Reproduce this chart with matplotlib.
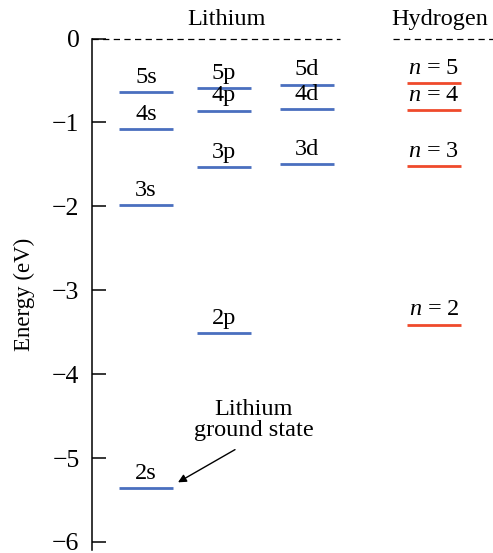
import matplotlib
matplotlib.use("Agg")
import matplotlib.pyplot as plt

plt.rcParams['font.family'] = ['Liberation Serif', 'DejaVu Serif']
plt.rcParams['mathtext.fontset'] = 'custom'
plt.rcParams['mathtext.rm'] = 'Liberation Serif'
plt.rcParams['mathtext.it'] = 'Liberation Serif:italic'

# Energy levels (eV)
li_s_labels = ["2s", "3s", "4s", "5s"]
li_s_energy = [-5.36, -1.99, -1.08, -0.64]
li_p_labels = ["2p", "3p", "4p", "5p"]
li_p_energy = [-3.51, -1.53, -0.86, -0.59]
li_d_labels = ["3d", "4d", "5d"]
li_d_energy = [-1.50, -0.84, -0.55]
h_labels = [r"$n$ = 2", r"$n$ = 3", r"$n$ = 4", r"$n$ = 5"]
h_energy = [-3.41, -1.52, -0.85, -0.53]

yticks = [0, -1, -2, -3, -4, -5, -6]

BLUE = "#4a6fbf"
RED = "#ef4a2b"
FS = 17.5

# column layout (x in axes data units, pixels from spine)
col_x = {"s": 54, "p": 132, "d": 215, "H": 342}
half_w = 27

fig = plt.figure(figsize=(4.93, 5.53), dpi=100)
ax = fig.add_axes([92 / 493, 2.7 / 553, 401 / 493, 511.8 / 553])
ax.set_xlim(0, 401)
ax.set_ylim(-6.1, 0)


def draw_levels(xc, labels, energies, color):
    for lab, e in zip(labels, energies):
        ax.hlines(e, xc - half_w, xc + half_w, color=color, lw=2.0)
        ax.annotate(lab, (xc, e), xytext=(0, 3), textcoords="offset points",
                    ha="center", va="bottom", fontsize=FS)


draw_levels(col_x["s"], li_s_labels, li_s_energy, BLUE)
draw_levels(col_x["p"], li_p_labels, li_p_energy, BLUE)
draw_levels(col_x["d"], li_d_labels, li_d_energy, BLUE)
draw_levels(col_x["H"], h_labels, h_energy, RED)

# zero-energy dashed lines
ax.hlines(0, 0, 248, color="black", lw=0.9, linestyles=(0, (5, 3.5)), clip_on=False)
ax.hlines(0, 301, 401, color="black", lw=0.9, linestyles=(0, (5, 3.5)), clip_on=False)

# column titles
ax.annotate("Lithium", (135, 0), xytext=(0, 6), textcoords="offset points",
            ha="center", va="bottom", fontsize=FS, annotation_clip=False)
ax.annotate("Hydrogen", (348, 0), xytext=(0, 6), textcoords="offset points",
            ha="center", va="bottom", fontsize=FS, annotation_clip=False)

# ground state callout
ax.text(162, -4.30, "Lithium\nground state", ha="center", va="top",
        fontsize=FS, linespacing=1.0)
ax.annotate("", xy=(col_x["s"] + half_w + 5, li_s_energy[0] + 0.07),
            xytext=(143, -4.90),
            arrowprops=dict(arrowstyle="-|>", color="black", lw=1.0,
                            mutation_scale=12, shrinkA=0, shrinkB=0))

ax.set_yticks(yticks)
ax.set_yticklabels(["0"] + ["\u2212%d" % abs(t) for t in yticks[1:]])
ax.tick_params(axis="y", direction="in", length=10, width=1.1, pad=9,
               labelsize=18.5)
ax.set_xticks([])
for side in ["top", "right", "bottom"]:
    ax.spines[side].set_visible(False)
ax.spines["left"].set_linewidth(1.1)
ax.set_ylabel("Energy (eV)", fontsize=16.5, labelpad=12)

fig.savefig("out.png", dpi=100)
